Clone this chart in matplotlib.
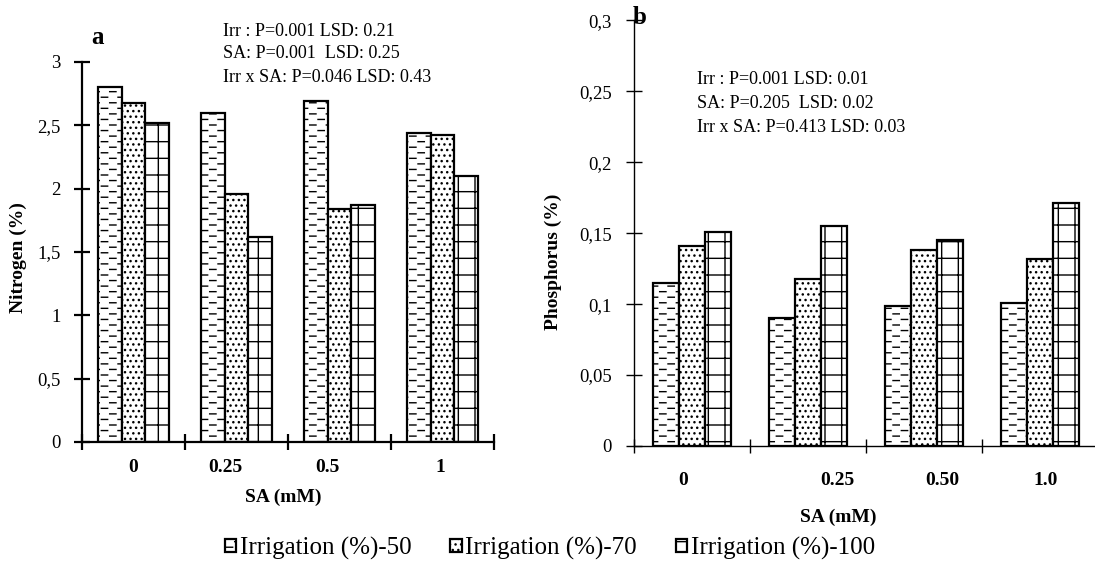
import numpy as np
import matplotlib
matplotlib.use("Agg")
import matplotlib.pyplot as plt
import matplotlib.hatch as mhatch
from matplotlib.path import Path

# data
sa_levels_n = ["0", "0.25", "0.5", "1"]
sa_levels_p = ["0", "0.25", "0.50", "1.0"]
series = ["Irrigation (%)-50", "Irrigation (%)-70", "Irrigation (%)-100"]

nitrogen_50 = [2.80, 2.60, 2.69, 2.44]
nitrogen_70 = [2.68, 1.96, 1.84, 2.42]
nitrogen_100 = [2.52, 1.62, 1.87, 2.10]

phosphorus_50 = [0.115, 0.090, 0.099, 0.101]
phosphorus_70 = [0.141, 0.118, 0.138, 0.132]
phosphorus_100 = [0.151, 0.155, 0.145, 0.171]

stats_n = ["Irr : P=0.001 LSD: 0.21", "SA: P=0.001  LSD: 0.25", "Irr x SA: P=0.046 LSD: 0.43"]
stats_p = ["Irr : P=0.001 LSD: 0.01", "SA: P=0.205  LSD: 0.02", "Irr x SA: P=0.413 LSD: 0.03"]


# '-' gives short staggered dashes (like the Excel fill), '+' keeps full horizontal lines
class DashHatch(mhatch.HatchPatternBase):
    def __init__(self, hatch, density):
        self.num_rows = hatch.count('-') * density
        self.num_lines = hatch.count('+') * density
        self.per_row = max(self.num_rows // 3, 1)
        self.num_vertices = 2 * (self.num_rows * self.per_row + self.num_lines)

    def set_vertices_and_codes(self, vertices, codes):
        i = 0
        for r in range(self.num_rows):
            y = (r + 0.5) / self.num_rows
            shift = 0.5 if r % 2 else 0.0
            for c in range(self.per_row):
                x0 = (c + 0.08 + shift) / self.per_row
                vertices[i] = (x0, y)
                vertices[i + 1] = (x0 + 0.38 / self.per_row, y)
                i += 2
        for k in range(self.num_lines):
            y = (k + 0.5) / self.num_lines
            vertices[i] = (0.0, y)
            vertices[i + 1] = (1.0, y)
            i += 2
        codes[0::2] = Path.MOVETO
        codes[1::2] = Path.LINETO


mhatch._hatch_types = [DashHatch if t is mhatch.HorizontalHatch else t
                       for t in mhatch._hatch_types]

plt.rcParams['font.family'] = ['Liberation Serif', 'DejaVu Serif']
plt.rcParams['hatch.linewidth'] = 1.0

W, H = 1095, 585
fig = plt.figure(figsize=(W / 100, H / 100), dpi=100)


def fpos(x, y):
    return x / W, 1 - y / H


hatches = ['---', '...', '+']


def comma_fmt(v, pos):
    return f"{v:g}".replace('.', ',')


def draw_panel(ax, values, width, lw):
    x = np.arange(len(values[0]))
    bars = []
    for i, vals in enumerate(values):
        b = ax.bar(x + (i - 1) * width, vals, width, facecolor='white',
                   edgecolor='black', hatch=hatches[i], linewidth=lw,
                   label=series[i])
        bars.append(b)
    ax.set_xlim(-0.5, 3.5)
    ax.spines['top'].set_visible(False)
    ax.spines['right'].set_visible(False)
    ax.set_xticks(np.arange(-0.5, 4.0, 1.0), minor=True)
    ax.yaxis.set_major_formatter(plt.FuncFormatter(comma_fmt))
    return bars


# ---- panel a: nitrogen
ax1 = fig.add_axes([82 / W, 1 - 442 / H, (494 - 82) / W, (442 - 62) / H])
bars = draw_panel(ax1, [nitrogen_50, nitrogen_70, nitrogen_100], 0.23, 1.6)
ax1.set_ylim(0, 3)
ax1.set_yticks(np.arange(0, 3.01, 0.5))
for s in ['left', 'bottom']:
    ax1.spines[s].set_linewidth(1.6)
ax1.tick_params(axis='y', direction='inout', length=11, width=1.6, pad=10, labelsize=13.5)
ax1.tick_params(axis='x', which='minor', direction='inout', length=11, width=1.6)
ax1.set_xticks([0.0, 0.89, 1.88, 2.98], sa_levels_n, fontweight='bold', fontsize=14)
ax1.tick_params(axis='x', which='major', length=0, pad=12)

# ---- panel b: phosphorus
ax2 = fig.add_axes([634 / W, 1 - 446 / H, 464 / W, (446 - 20.5) / H])
draw_panel(ax2, [phosphorus_50, phosphorus_70, phosphorus_100], 0.225, 1.6)
ax2.set_ylim(0, 0.3)
ax2.set_yticks(np.arange(0, 0.301, 0.05))
for s in ['left', 'bottom']:
    ax2.spines[s].set_linewidth(1.0)
ax2.tick_params(axis='y', direction='inout', length=12, width=1.0, pad=10, labelsize=13.5)
ax2.tick_params(axis='x', which='minor', direction='inout', length=10, width=1.0)
ax2.set_xticks([-0.08, 1.25, 2.16, 3.05], sa_levels_p, fontweight='bold', fontsize=14)
ax2.tick_params(axis='x', which='major', length=0, pad=19)

# ---- text
fig.text(*fpos(97, 38), "a", fontsize=18, fontweight='bold', ha='center', va='center')
fig.text(*fpos(640, 17), "b", fontsize=18, fontweight='bold', ha='center', va='center')

for k, line in enumerate(stats_n):
    fig.text(*fpos(223, 31 + 23 * k), line, fontsize=13, ha='left', va='center')
for k, line in enumerate(stats_p):
    fig.text(*fpos(697, 80 + 23.5 * k), line, fontsize=13, ha='left', va='center')

fig.text(*fpos(18, 258), "Nitrogen (%)", fontsize=14, fontweight='bold',
         rotation=90, ha='center', va='center')
fig.text(*fpos(553, 262), "Phosphorus (%)", fontsize=14, fontweight='bold',
         rotation=90, ha='center', va='center')
fig.text(*fpos(283, 497), "SA (mM)", fontsize=14, fontweight='bold', ha='center', va='center')
fig.text(*fpos(838, 517), "SA (mM)", fontsize=14, fontweight='bold', ha='center', va='center')

fig.legend(handles=bars, loc='center', bbox_to_anchor=fpos(550, 548), ncol=3,
           frameon=False, fontsize=18, handlelength=0.45, handleheight=0.45,
           handletextpad=0.15, columnspacing=1.55)

fig.savefig("out.png", dpi=100)
